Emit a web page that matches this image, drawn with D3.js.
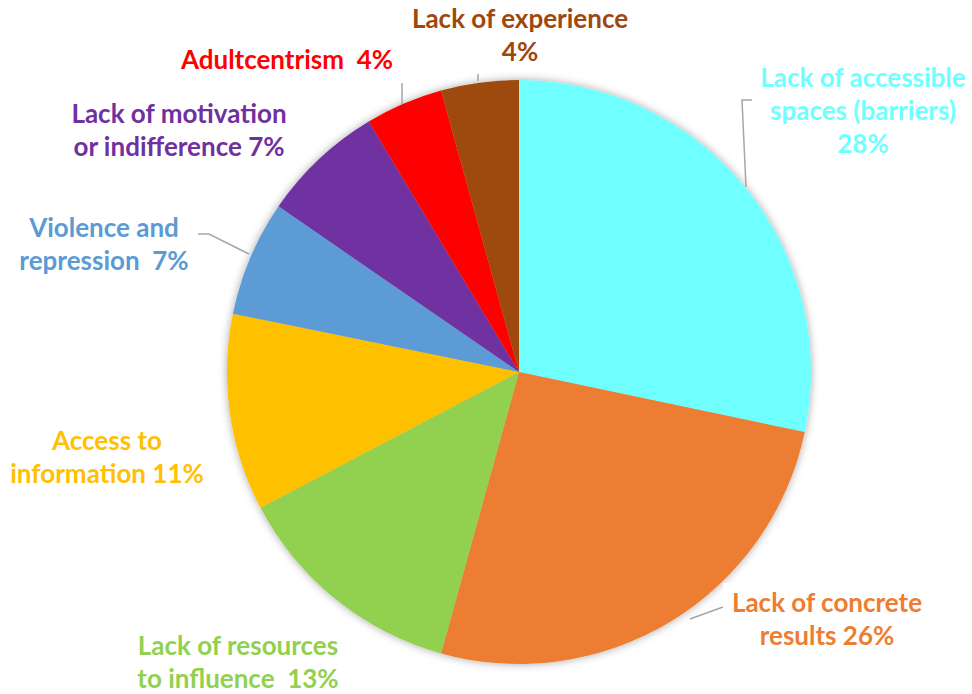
<!DOCTYPE html>
<html>
<head>
<meta charset="utf-8">
<script src="https://cdn.jsdelivr.net/npm/d3@7"></script>
<style>
  body { margin: 0; background: #fff; }
  text { font-family: Lato, "Open Sans", sans-serif; font-weight: bold; }
</style>
</head>
<body>
<div id="chart"></div>
<script>
const categories = [
  "Lack of accessible spaces (barriers)",
  "Lack of concrete results",
  "Lack of resources to influence",
  "Access to information",
  "Violence and repression",
  "Lack of motivation or indifference",
  "Adultcentrism",
  "Lack of experience"
];
const values = [28.3, 26.0, 13.0, 10.9, 6.4, 6.8, 4.3, 4.3];
const sliceColors = ["#70FFFF", "#ED7D31", "#92D050", "#FFC000", "#5B9BD5", "#7030A0", "#FF0000", "#9E480E"];
const labelLines = [
  ["Lack of accessible", "spaces (barriers)", "28%"],
  ["Lack of concrete", "results 26%"],
  ["Lack of resources", "to influence  13%"],
  ["Access to", "information 11%"],
  ["Violence and", "repression  7%"],
  ["Lack of motivation", "or indifference 7%"],
  ["Adultcentrism  4%"],
  ["Lack of experience", "4%"]
];
// label anchor (center x, first baseline) and leader polyline, in pixels
const labelPos = [[863, 87], [827, 612], [238, 655], [107, 450], [104, 237], [179, 123], [287, 69], [520, 28]];
const leaders = [
  [[752, 100], [742, 100], [746, 187]],
  [[723, 607], [690, 619]],
  null,
  null,
  [[198, 234], [209, 234], [249, 254]],
  null,
  [[402, 83], [402, 104]],
  [[478, 74], [478, 81]]
];

const width = 972, height = 694;
const cx = 519, cy = 372, r = 292;

const svg = d3.select("#chart").append("svg")
  .attr("width", width).attr("height", height);

const defs = svg.append("defs");
const f = defs.append("filter").attr("id", "shadow")
  .attr("x", "-10%").attr("y", "-10%").attr("width", "120%").attr("height", "120%");
f.append("feDropShadow").attr("dx", 0).attr("dy", 0).attr("stdDeviation", 4)
  .attr("flood-color", "#000").attr("flood-opacity", 0.35);

const pie = d3.pie().sort(null).value(d => d);
const arc = d3.arc().innerRadius(0).outerRadius(r);

const g = svg.append("g").attr("transform", `translate(${cx},${cy})`).attr("filter", "url(#shadow)");
g.selectAll("path").data(pie(values)).enter().append("path")
  .attr("d", arc)
  .attr("fill", (d, i) => sliceColors[i]);

// leader lines
svg.selectAll("polyline.leader").data(leaders.filter(Boolean)).enter().append("polyline")
  .attr("class", "leader")
  .attr("points", d => d.map(p => p.join(",")).join(" "))
  .attr("fill", "none").attr("stroke", "#A6A6A6").attr("stroke-width", 1.5);

// white box behind the concrete results label
svg.append("rect").attr("x", 723).attr("y", 583).attr("width", 208).attr("height", 72).attr("fill", "#fff");

const lh = 33;
categories.forEach((c, i) => {
  const t = svg.append("text")
    .attr("text-anchor", "middle")
    .attr("fill", sliceColors[i])
    .style("font-size", "26px");
  labelLines[i].forEach((line, j) => {
    t.append("tspan").attr("x", labelPos[i][0]).attr("y", labelPos[i][1] + j * lh)
      .attr("xml:space", "preserve").style("white-space", "pre").text(line);
  });
});
</script>
</body>
</html>
